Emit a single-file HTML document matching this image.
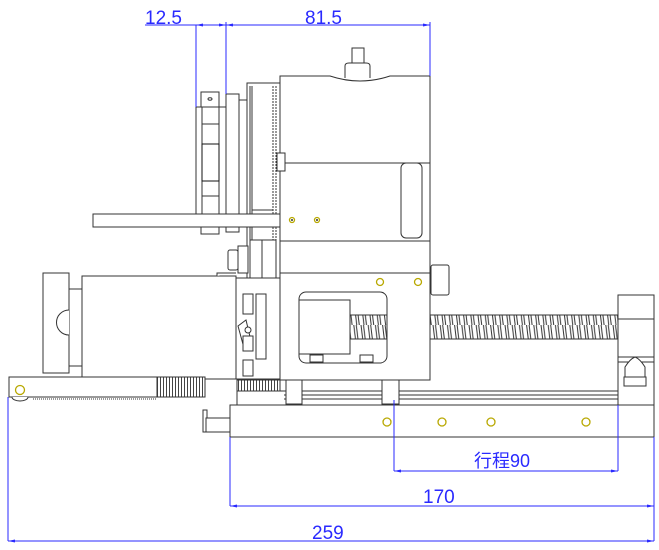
<!DOCTYPE html>
<html><head><meta charset="utf-8"><style>
html,body{margin:0;padding:0;background:#fff}
svg{display:block}
text{font-family:"Liberation Sans","Noto Sans CJK SC",sans-serif;fill:#2a2aff}
</style></head><body>
<svg width="659" height="550" viewBox="0 0 659 550" xmlns="http://www.w3.org/2000/svg">
<defs>
<pattern id="teeth" width="3" height="20" patternUnits="userSpaceOnUse"><rect width="3" height="20" fill="#fff"/><line x1="1.5" y1="0" x2="1.5" y2="20" stroke="#444" stroke-width="1"/></pattern>
<pattern id="screw" width="7.2" height="25" patternUnits="userSpaceOnUse"><rect width="7.2" height="25" fill="#fff"/><path d="M1 0 L4 25 M3.5 0 L6.5 25" stroke="#333" stroke-width="1" fill="none"/></pattern>
</defs>
<g fill="#fff" stroke="#333" stroke-width="1">
<!-- left knob + motor -->
<rect x="43" y="273" width="26" height="100"/>
<rect x="69" y="289" width="13" height="77"/>
<path d="M69 310 A12 12 0 0 0 69 335"/>
<rect x="82" y="276" width="154" height="103"/>
<path d="M217 276 L217 273 L236 273"/>
<!-- arm -->
<rect x="9" y="377" width="196" height="20"/>
<rect x="157" y="377" width="48" height="20" fill="url(#teeth)"/>
<line x1="33" y1="399" x2="157" y2="399" stroke-dasharray="1 1"/>
<path d="M12 397 A8 4 0 0 0 28 397"/>
<rect x="203" y="410" width="4" height="22"/>
<rect x="206" y="418" width="24" height="14"/>
<!-- fan plate -->
<rect x="196" y="107" width="30" height="107"/>
<rect x="202" y="107" width="17" height="107"/>
<rect x="201" y="92" width="18" height="15"/>
<ellipse cx="210" cy="99" rx="2" ry="1.2"/>
<rect x="202" y="144" width="17" height="37" stroke="#111"/>
<line x1="202" y1="124" x2="219" y2="124"/><line x1="202" y1="196" x2="219" y2="196"/>
<rect x="201" y="227" width="18" height="7"/>
<rect x="226" y="94" width="13" height="120"/>
<rect x="226" y="227" width="13" height="5"/>
<rect x="239" y="100" width="8" height="114"/>
<!-- pulley -->
<rect x="247" y="83" width="33" height="296"/>
<line x1="250" y1="86" x2="250" y2="376"/>
<line x1="276" y1="86" x2="276" y2="376" stroke-dasharray="2 1"/>
<line x1="252" y1="86" x2="252" y2="240"/>
<line x1="273" y1="86" x2="273" y2="240" stroke-dasharray="2 1"/>
<line x1="252" y1="210" x2="273" y2="210"/>
<rect x="250" y="240" width="26" height="46"/>
<line x1="262" y1="240" x2="262" y2="286"/>
<!-- bar -->
<rect x="93" y="214" width="187" height="13"/>
<!-- nut -->
<rect x="228" y="250" width="10" height="20" rx="2"/>
<rect x="238" y="246" width="10" height="27"/>
<!-- gear region -->
<rect x="236" y="278" width="44" height="101"/>
<rect x="243" y="294" width="10" height="20"/>
<rect x="256" y="294" width="10" height="65"/>
<path d="M238 326 L246 320 L252 345 L244 348 Z"/>
<circle cx="248" cy="330" r="3"/>
<rect x="243" y="336" width="10" height="15"/>
<rect x="243" y="360" width="10" height="16"/>
<rect x="237" y="380" width="43" height="11" fill="url(#teeth)"/>
<line x1="237" y1="393" x2="284" y2="393"/>
<!-- base -->
<rect x="230" y="405" width="424" height="32"/>
<rect x="237" y="391" width="381" height="14"/>
<line x1="284" y1="395" x2="618" y2="395"/><line x1="284" y1="399" x2="618" y2="399"/>
<!-- end block -->
<rect x="618" y="295" width="36" height="110"/>
<line x1="618" y1="319" x2="654" y2="319"/>
<line x1="618" y1="357" x2="654" y2="357"/>
<line x1="618" y1="362" x2="654" y2="362"/>
<path d="M625 374 L625 367 Q630 359 635 357 Q640 359 645 367 L645 381 L625 381 Z"/>
<rect x="624" y="377" width="22" height="9"/>
<!-- screw -->
<rect x="430" y="315" width="188" height="24" fill="url(#screw)"/>
<!-- main upper box -->
<path d="M280 241 L280 76 L330 76 Q360 86 390 76 L430 76 L430 241 Z"/>
<path d="M345 78 L345 66 Q345 63 349 63 L366 63 Q370 63 370 66 L370 78"/>
<rect x="352" y="48" width="12" height="15"/>
<line x1="280" y1="163" x2="430" y2="163"/>
<rect x="277" y="153" width="8" height="18"/>
<rect x="401" y="163" width="21" height="75" rx="5"/>
<rect x="280" y="241" width="150" height="32"/>
<!-- knob right -->
<rect x="431" y="265" width="18" height="30" rx="2"/>
<!-- lower box -->
<rect x="280" y="273" width="150" height="107"/>
<rect x="299" y="292" width="88" height="71" rx="7"/>
<rect x="350" y="315" width="37" height="24" fill="url(#screw)"/>
<rect x="299" y="300" width="51" height="54"/>
<rect x="310" y="355" width="13" height="7"/>
<rect x="360" y="355" width="13" height="7"/>
<rect x="286" y="380" width="16" height="24"/>
<rect x="382" y="380" width="17" height="24"/>
</g>
<!-- holes -->
<g fill="#fff" stroke="#b8a800" stroke-width="1.3">
<circle cx="20" cy="390" r="4.5"/>
<circle cx="292" cy="220" r="2.5"/><circle cx="317" cy="220" r="2.5"/>
<circle cx="380" cy="282" r="3.5"/><circle cx="418" cy="282" r="3.5"/>
<circle cx="387" cy="422" r="4"/><circle cx="442" cy="422" r="4"/><circle cx="491" cy="422" r="4"/><circle cx="586" cy="422" r="4"/>
</g>
<g fill="#333"><circle cx="292" cy="220" r="1"/><circle cx="317" cy="220" r="1"/></g>
<!-- dimensions -->
<g stroke="#2a2aff" stroke-width="1" fill="none">
<line x1="145" y1="25" x2="430" y2="25"/>
<line x1="196" y1="25" x2="196" y2="107"/>
<line x1="226" y1="22" x2="226" y2="94"/>
<line x1="430" y1="22" x2="430" y2="76"/>
<line x1="394" y1="400" x2="394" y2="471"/>
<line x1="618" y1="405" x2="618" y2="471"/>
<line x1="394" y1="471" x2="618" y2="471"/>
<line x1="230" y1="437" x2="230" y2="506"/>
<line x1="654" y1="437" x2="654" y2="541"/>
<line x1="230" y1="506" x2="654" y2="506"/>
<line x1="8" y1="397" x2="8" y2="541"/>
<line x1="8" y1="541" x2="654" y2="541"/>
</g>
<g fill="#2a2aff">
<path d="M196 25 l7 -1.5 v3z M226 25 l-7 -1.5 v3z M226 25 l7 -1.5 v3z M430 25 l-7 -1.5 v3z"/>
<path d="M394 471 l7 -1.5 v3z M618 471 l-7 -1.5 v3z M230 506 l7 -1.5 v3z M654 506 l-7 -1.5 v3z M8 541 l7 -1.5 v3z M654 541 l-7 -1.5 v3z"/>
</g>
<text x="145" y="24" font-size="19">12.5</text>
<text x="305" y="24" font-size="19">81.5</text>
<text x="474" y="467" font-size="18">行程90</text>
<text x="423" y="503" font-size="19">170</text>
<text x="312" y="539" font-size="19">259</text>
</svg>
</body></html>
